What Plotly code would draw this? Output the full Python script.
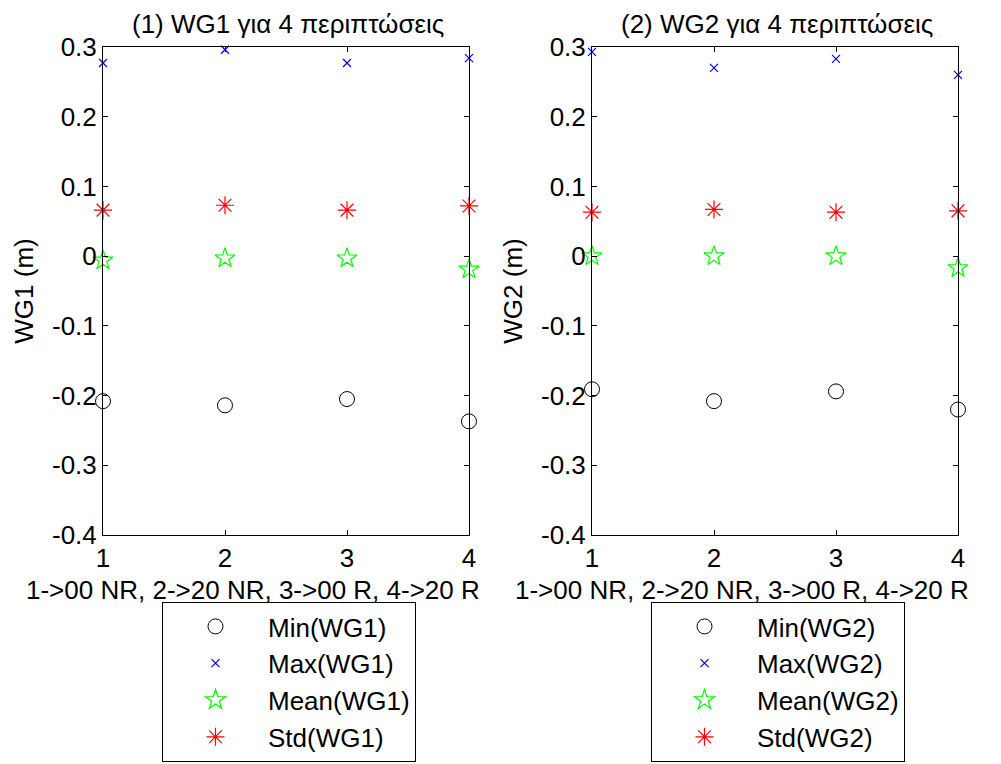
import plotly.graph_objects as go

cases = [1, 2, 3, 4]
wg1_min = [-0.208, -0.214, -0.205, -0.237]
wg1_max = [0.277, 0.296, 0.277, 0.284]
wg1_mean = [-0.006, -0.003, -0.003, -0.019]
wg1_std = [0.066, 0.073, 0.066, 0.072]

wg2_min = [-0.191, -0.208, -0.194, -0.220]
wg2_max = [0.293, 0.270, 0.283, 0.260]
wg2_mean = [0.000, 0.000, 0.000, -0.017]
wg2_std = [0.063, 0.067, 0.063, 0.065]

ytick_vals = [-0.4, -0.3, -0.2, -0.1, 0, 0.1, 0.2, 0.3]
ytick_text = ["-0.4", "-0.3", "-0.2", "-0.1", "0", "0.1", "0.2", "0.3"]
xtick_vals = [1, 2, 3, 4]

FONT = "Arial, Liberation Sans, sans-serif"
FS = 26
OFF = 8  # page body margin offset
fig = go.Figure()

styles = [
    ("Min", dict(symbol="circle-open", color="black", size=15, line=dict(width=1, color="black"))),
    ("Max", dict(symbol="x-thin-open", color="blue", size=8, line=dict(width=1.2, color="blue"))),
    ("Mean", dict(symbol="star-open", color="#00ff00", size=15, line=dict(width=1.2, color="#00ff00"))),
    ("Std", dict(symbol="asterisk-open", color="red", size=15, line=dict(width=1.2, color="red"))),
]

panels = [
    ("WG1", [wg1_min, wg1_max, wg1_mean, wg1_std], "x", "y", "legend"),
    ("WG2", [wg2_min, wg2_max, wg2_mean, wg2_std], "x2", "y2", "legend2"),
]

for name, series, xa, ya, lg in panels:
    for (lab, mk), vals in zip(styles, series):
        fig.add_trace(go.Scatter(
            x=cases, y=vals, mode="markers", marker=mk,
            name=f"{lab}({name})", xaxis=xa, yaxis=ya, legend=lg,
            legendgroup=f"{name}{lab}", cliponaxis=False,
        ))

W, H = 1001, 764


def px(v):
    return (v - OFF) / W


def py(v):
    return 1 - (v - OFF) / H


axcommon = dict(showline=True, linecolor="black", linewidth=1, mirror="allticks",
                ticks="inside", ticklen=5, tickcolor="black", showgrid=False,
                zeroline=False, tickfont=dict(size=FS, color="black", family=FONT))

legcommon = dict(xanchor="center", yanchor="bottom", bordercolor="black", borderwidth=1,
                 bgcolor="white", font=dict(size=FS, family=FONT), traceorder="grouped",
                 tracegroupgap=0, itemwidth=95)

fig.update_layout(
    width=W, height=H, margin=dict(l=0, r=0, t=0, b=0, autoexpand=False),
    paper_bgcolor="white", plot_bgcolor="white",
    font=dict(family=FONT, size=FS, color="black"),
    xaxis=dict(domain=[px(103), px(469)], range=[1, 4], tickvals=xtick_vals,
               anchor="y", **axcommon),
    yaxis=dict(domain=[py(535), py(47)], range=[-0.4, 0.3], tickvals=ytick_vals,
               ticktext=ytick_text, anchor="x",
               title=dict(text="WG1 (m)", font=dict(size=FS), standoff=10), **axcommon),
    xaxis2=dict(domain=[px(592), px(958)], range=[1, 4], tickvals=xtick_vals,
                anchor="y2", **axcommon),
    yaxis2=dict(domain=[py(535), py(47)], range=[-0.4, 0.3], tickvals=ytick_vals,
                ticktext=ytick_text, anchor="x2",
                title=dict(text="WG2 (m)", font=dict(size=FS), standoff=10), **axcommon),
    legend=dict(x=px(289), y=py(762), **legcommon),
    legend2=dict(x=px(778), y=py(762), **legcommon),
    showlegend=True,
)

titles = [("(1) WG1 για 4 περιπτώσεις", 288), ("(2) WG2 για 4 περιπτώσεις", 777)]
for t, cx in titles:
    fig.add_annotation(text=t, x=px(cx), y=1.0, xref="paper", yref="paper",
                       showarrow=False, font=dict(size=FS, family=FONT), xanchor="center",
                       yanchor="top", borderpad=0)
for cx in [253, 742]:
    fig.add_annotation(text="1->00 NR, 2->20 NR, 3->00 R, 4->20 R", x=px(cx), y=py(590),
                       xref="paper", yref="paper", showarrow=False,
                       font=dict(size=FS, family=FONT), xanchor="center", yanchor="middle")

fig.write_html("out.html")
